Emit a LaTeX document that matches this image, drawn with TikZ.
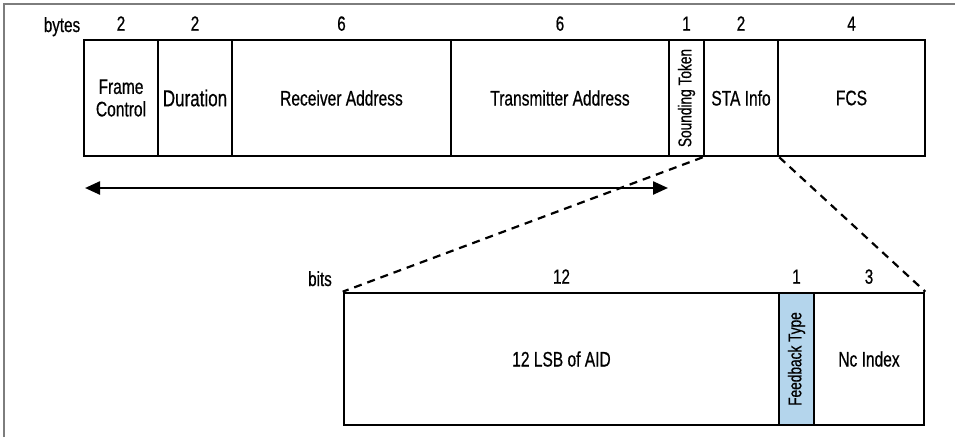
\documentclass[tikz,border=0pt]{standalone}
\usepackage{fontspec}
\setmainfont[FakeStretch=0.74,FakeBold=0.6]{Liberation Sans}
\usetikzlibrary{arrows.meta}
\definecolor{fbblue}{RGB}{180,213,236}
\definecolor{framegray}{RGB}{125,125,125}
\begin{document}
\begin{tikzpicture}[x=1pt,y=-1pt,
  field/.style={draw=black, line width=2.6pt, inner sep=0pt, align=center,
    font=\fontsize{21}{22.5}\selectfont},
  topfield/.style={field, minimum height=116pt},
  botfield/.style={field, minimum height=132pt},
  vtext/.style={rotate=90, font=\fontsize{18.5}{20}\selectfont},
  num/.style={anchor=base, inner sep=0pt, font=\fontsize{20.5}{22}\selectfont},
  zoomline/.style={line width=2.2pt, dash pattern=on 8pt off 6pt},
  span/.style={line width=2.4pt, {Triangle[length=15pt,width=13pt]}-{Triangle[length=15pt,width=13pt]}}
]
\useasboundingbox (0,0) rectangle (955,437);
\draw[framegray, line width=1.3pt] (4,437) -- (4,4) -- (955,4);

% top row (bytes)
\node[topfield, minimum width=74pt]  (fc)  at (121,98)   {Frame\\Control};
\node[topfield, minimum width=74pt, font=\fontsize{23}{24}\selectfont] (dur) at (195,98) {Duration};
\node[topfield, minimum width=219pt] (ra)  at (341.5,98) {Receiver Address};
\node[topfield, minimum width=218pt] (ta)  at (560,98)   {Transmitter Address};
\node[topfield, minimum width=35pt]  (st)  at (686.5,98) {};
\node[vtext] (stt) at (st.center) {Sounding Token};
\node[topfield, minimum width=74pt]  (sta) at (741,98)   {STA Info};
\node[topfield, minimum width=147pt] (fcs) at (851.5,98) {FCS};

\node[num] (bytes) at (62,32) {bytes};
\node[num] (nfc)  at ([yshift=8pt]fc.north)  {2};
\node[num] (ndur) at ([yshift=8pt]dur.north) {2};
\node[num] (nra)  at ([yshift=8pt]ra.north)  {6};
\node[num] (nta)  at ([yshift=8pt]ta.north)  {6};
\node[num] (nst)  at ([yshift=8pt]st.north)  {1};
\node[num] (nsta) at ([yshift=8pt]sta.north) {2};
\node[num] (nfcs) at ([yshift=8pt]fcs.north) {4};

% span arrow
\coordinate (al) at (85,188);
\coordinate (ar) at (668,188);
\draw[span] (al) -- (ar);

% bottom row (bits)
\node[botfield, minimum width=435pt] (aid) at (561.5,359) {12 LSB of AID};
\node[botfield, minimum width=35pt, fill=fbblue] (fb) at (796.5,359) {};
\node[vtext] (fbt) at (fb.center) {Feedback Type};
\node[botfield, minimum width=110pt] (nc) at (869,359) {Nc Index};

\node[num] (bits) at (320,286) {bits};
\node[num] (naid) at ([yshift=8pt]aid.north) {12};
\node[num] (nfb)  at ([yshift=8pt]fb.north)  {1};
\node[num] (nnc)  at ([yshift=8pt]nc.north)  {3};

% zoom lines
\draw[zoomline] (sta.south west) -- (aid.north west);
\draw[zoomline] (sta.south east) -- (nc.north east);
\end{tikzpicture}
\end{document}
